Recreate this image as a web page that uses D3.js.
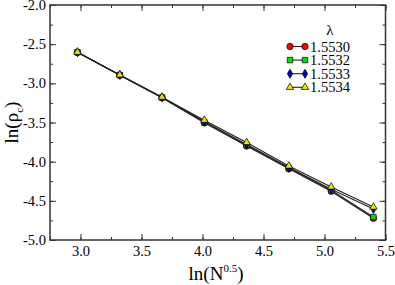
<!DOCTYPE html>
<html>
<head>
<meta charset="utf-8">
<script src="https://cdn.jsdelivr.net/npm/d3@7"></script>
<style>
  body { margin: 0; background: #fff; }
</style>
</head>
<body>
<div id="chart"></div>
<script>
var width = 395,
    height = 285;

var margin = {top: 5, right: 9.5, bottom: 45, left: 50};

var lnN = [2.975, 3.322, 3.668, 4.015, 4.362, 4.708, 5.055, 5.401];

var lambdas = ["1.5530", "1.5532", "1.5533", "1.5534"];

var rho1553_0 = [-2.604, -2.896, -3.183, -3.505, -3.800, -4.092, -4.378, -4.723];
var rho1553_2 = [-2.604, -2.895, -3.181, -3.495, -3.790, -4.080, -4.365, -4.707];
var rho1553_3 = [-2.603, -2.894, -3.179, -3.488, -3.780, -4.075, -4.352, -4.604];
var rho1553_4 = [-2.602, -2.892, -3.176, -3.470, -3.755, -4.055, -4.322, -4.579];

var xTicks = [3.0, 3.5, 4.0, 4.5, 5.0, 5.5];
var yTicks = [-5.0, -4.5, -4.0, -3.5, -3.0, -2.5, -2.0];

var seriesValues = [rho1553_0, rho1553_2, rho1553_3, rho1553_4];
var colors = ["#ff0000", "#00e000", "#0000c8", "#e8e800"];
var symbols = [d3.symbolCircle, d3.symbolSquare, d3.symbolDiamond, d3.symbolTriangle];
var symSizes = [32, 30, 24, 24];

var serif = "'Liberation Serif'";

var x = d3.scaleLinear()
    .domain([2.75, 5.5])
    .range([margin.left, width - margin.right]);

var y = d3.scaleLinear()
    .domain([-5.0, -2.0])
    .range([height - margin.bottom, margin.top]);

var svg = d3.select("#chart").append("svg")
    .attr("width", width)
    .attr("height", height);

function fmt(d) { return d3.format(".1f")(d).replace("−", "-"); }

// minor + major ticks, mirrored on all four sides
var xMinor = d3.range(2.75, 5.5001, 0.25);
var yMinor = d3.range(-5.0, -1.9999, 0.25);

function drawAxis(gen, transform, major, minor, labels, pad) {
  var g = svg.append("g").attr("transform", transform);
  g.call(gen.tickValues(minor).tickSize(-3).tickFormat(""));
  g.selectAll(".domain").remove();
  var g2 = svg.append("g").attr("transform", transform);
  g2.call(gen.tickValues(major).tickSize(-6).tickPadding(pad).tickFormat(labels ? fmt : ""));
  g2.selectAll(".domain").remove();
  g.selectAll("line").attr("stroke", "#333");
  g2.selectAll("line").attr("stroke", "#333");
  g2.selectAll("text")
      .style("font-family", serif)
      .style("font-size", "14.5px")
      .attr("fill", "#000");
  return g2;
}

drawAxis(d3.axisBottom(x), "translate(0," + (height - margin.bottom) + ")", xTicks, xMinor, true, 6);
drawAxis(d3.axisTop(x), "translate(0," + margin.top + ")", xTicks, xMinor, false, 6);
drawAxis(d3.axisLeft(y), "translate(" + margin.left + ",0)", yTicks, yMinor, true, 4);
drawAxis(d3.axisRight(y), "translate(" + (width - margin.right) + ",0)", yTicks, yMinor, false, 4);

svg.append("rect")
    .attr("x", margin.left)
    .attr("y", margin.top)
    .attr("width", width - margin.left - margin.right)
    .attr("height", height - margin.top - margin.bottom)
    .attr("fill", "none")
    .attr("stroke", "#333")
    .attr("stroke-width", 1.5);

var line = d3.line()
    .x(function(d, i) { return x(lnN[i]); })
    .y(function(d) { return y(d); });

seriesValues.forEach(function(vals, k) {
  svg.append("path")
      .datum(vals)
      .attr("d", line)
      .attr("fill", "none")
      .attr("stroke", "#222")
      .attr("stroke-width", 1.1);
});

seriesValues.forEach(function(vals, k) {
  svg.selectAll(".pt" + k)
    .data(vals)
    .enter().append("path")
      .attr("class", "pt" + k)
      .attr("d", d3.symbol().type(symbols[k]).size(symSizes[k]))
      .attr("transform", function(d, i) { return "translate(" + x(lnN[i]) + "," + y(d) + ")"; })
      .attr("fill", colors[k])
      .attr("stroke", "#000")
      .attr("stroke-width", 0.7);
});

// legend
var legend = svg.append("g");
legend.append("text")
    .attr("x", 330)
    .attr("y", 35)
    .attr("text-anchor", "middle")
    .style("font-family", serif)
    .style("font-size", "15px")
    .text("λ");

lambdas.forEach(function(lam, k) {
  var ly = 46.5 + k * 13.6;
  legend.append("line")
      .attr("x1", 290).attr("x2", 305)
      .attr("y1", ly).attr("y2", ly)
      .attr("stroke", "#222").attr("stroke-width", 1.1);
  [290, 305].forEach(function(lx) {
    legend.append("path")
        .attr("d", d3.symbol().type(symbols[k]).size(symSizes[k]))
        .attr("transform", "translate(" + lx + "," + ly + ")")
        .attr("fill", colors[k])
        .attr("stroke", "#000")
        .attr("stroke-width", 0.7);
  });
  legend.append("text")
      .attr("x", 310)
      .attr("y", ly + 5)
      .style("font-family", serif)
      .style("font-size", "14.5px")
      .text(lam);
});

// axis titles
var xt = svg.append("text")
    .attr("x", 216)
    .attr("y", 280)
    .attr("text-anchor", "middle")
    .style("font-family", serif)
    .style("font-size", "19px");
xt.append("tspan").text("ln(N");
xt.append("tspan").attr("dy", -8).style("font-size", "11px").text("0.5");
xt.append("tspan").attr("dy", 8).text(")");

var yt = svg.append("text")
    .attr("transform", "translate(18," + ((margin.top + height - margin.bottom) / 2) + ") rotate(-90)")
    .attr("text-anchor", "middle")
    .style("font-family", serif)
    .style("font-size", "19px");
yt.append("tspan").text("ln(ρ");
yt.append("tspan").attr("dy", 5).style("font-size", "11px").text("c");
yt.append("tspan").attr("dy", -5).text(")");
</script>
</body>
</html>
